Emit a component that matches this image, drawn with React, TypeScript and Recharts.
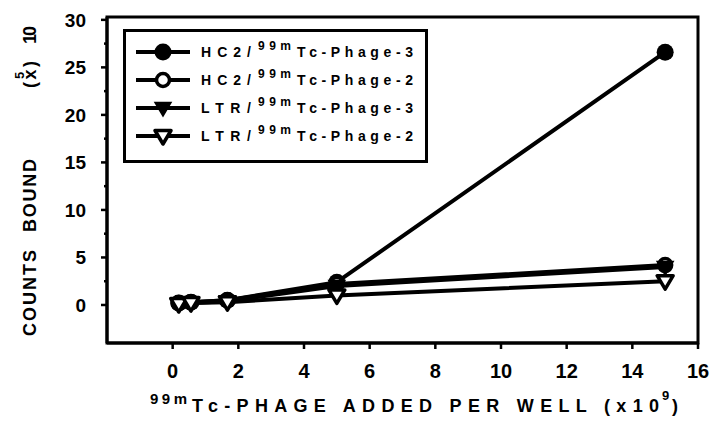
import { LineChart, Line, XAxis, YAxis, ReferenceArea } from "recharts";

// phage added per well (x10^9) — roughly 3-fold dilutions
const phageAdded = [0.185, 0.556, 1.667, 5, 15];
// counts bound (x10^5)
const hc2Phage3 = [0.2, 0.3, 0.5, 2.4, 26.6];
const hc2Phage2 = [0.2, 0.3, 0.5, 2.2, 4.2];
const ltrPhage3 = [0.1, 0.2, 0.4, 2.0, 4.0];
const ltrPhage2 = [0.1, 0.2, 0.3, 1.0, 2.5];

const xTicks = [0, 2, 4, 6, 8, 10, 12, 14, 16];
const yTicks = [0, 2.5, 5, 7.5, 10, 12.5, 15, 17.5, 20, 22.5, 25, 27.5, 30];

const cellLines = ["HC2/", "HC2/", "LTR/", "LTR/"];
const phageNames = ["Tc-Phage-3", "Tc-Phage-2", "Tc-Phage-3", "Tc-Phage-2"];
const seriesKeys = ["hc2p3", "hc2p2", "ltrp3", "ltrp2"];
const markerShapes = ["circleFilled", "circleOpen", "triFilled", "triOpen"];

const data = phageAdded.map((x, i) => ({
  x,
  hc2p3: hc2Phage3[i],
  hc2p2: hc2Phage2[i],
  ltrp3: ltrPhage3[i],
  ltrp2: ltrPhage2[i],
}));

const FONT = '"Liberation Sans", Arial, Helvetica, sans-serif';
const Y_TICK_SIZE = 6;
const Y_TICK_MARGIN = 15;

function Marker({ cx, cy, shape }: { cx: number; cy: number; shape: string }) {
  if (cx == null || cy == null) return null;
  if (shape === "circleFilled") return <circle cx={cx} cy={cy} r={8.5} fill="#000" />;
  if (shape === "circleOpen")
    return <circle cx={cx} cy={cy} r={6.5} fill="#fff" stroke="#000" strokeWidth={3.5} />;
  const pts = `${cx - 8},${cy - 5.5} ${cx + 8},${cy - 5.5} ${cx},${cy + 8}`;
  if (shape === "triFilled") return <polygon points={pts} fill="#000" stroke="#000" strokeWidth={1.5} />;
  return <polygon points={pts} fill="#fff" stroke="#000" strokeWidth={3.5} strokeLinejoin="round" />;
}

function YTick(props: any) {
  const { x, y, payload } = props;
  const v = payload.value;
  const major = v % 5 === 0;
  const x2 = x + Y_TICK_MARGIN + Y_TICK_SIZE;
  return (
    <g>
      <line x1={x2 - (major ? Y_TICK_SIZE : 3)} x2={x2} y1={y} y2={y} stroke="#000" strokeWidth={2.5} />
      {major && (
        <text x={x} y={y} dy="0.36em" textAnchor="end" fill="#000" fontSize={19} fontWeight="bold" fontFamily={FONT}>
          {v}
        </text>
      )}
    </g>
  );
}

function LegendBox() {
  const rowY = [52, 80, 108, 136];
  return (
    <g>
      <rect x={124.5} y={30.5} width={302} height={131} fill="#fff" stroke="#000" strokeWidth={3} />
      {seriesKeys.map((k, i) => (
        <g key={k}>
          <line x1={136} x2={190} y1={rowY[i]} y2={rowY[i]} stroke="#000" strokeWidth={4} />
          <Marker cx={163} cy={rowY[i]} shape={markerShapes[i]} />
          <text x={201} y={rowY[i] + 5} fontSize={14} textLength={50} lengthAdjust="spacing">
            {cellLines[i]}
          </text>
          <text x={258} y={rowY[i] - 2} fontSize={12} textLength={33} lengthAdjust="spacing">
            99m
          </text>
          <text x={297} y={rowY[i] + 5} fontSize={14} textLength={116} lengthAdjust="spacing">
            {phageNames[i]}
          </text>
        </g>
      ))}
    </g>
  );
}

export default function App() {
  return (
    <div style={{ position: "absolute", left: 0, top: 0, width: 711, height: 422, background: "#fff" }}>
      <LineChart width={711} height={422} data={data} margin={{ top: 17, right: 13, left: 0, bottom: 0 }}>
        <XAxis
          dataKey="x"
          type="number"
          domain={[-2, 16]}
          ticks={xTicks}
          height={79}
          axisLine={{ stroke: "#000", strokeWidth: 3 }}
          tickLine={{ stroke: "#000", strokeWidth: 2.5 }}
          tickSize={6}
          tickMargin={15}
          tick={{ fill: "#000", fontSize: 20, fontWeight: "bold", fontFamily: FONT }}
        />
        <YAxis
          type="number"
          domain={[-4, 30.3]}
          ticks={yTicks}
          width={107}
          axisLine={{ stroke: "#000", strokeWidth: 3 }}
          tickLine={false}
          tickSize={Y_TICK_SIZE}
          tickMargin={Y_TICK_MARGIN}
          tick={<YTick />}
          interval={0}
        />
        <ReferenceArea x1={-2} x2={16} y1={-4} y2={30.3} fill="none" stroke="#000" strokeWidth={3} />
        {seriesKeys.map((k, i) => (
          <Line
            key={k}
            dataKey={k}
            type="linear"
            stroke="#000"
            strokeWidth={4}
            isAnimationActive={false}
            dot={(p: any) => <Marker key={`${k}-${p.index}`} cx={p.cx} cy={p.cy} shape={markerShapes[i]} />}
            activeDot={false}
          />
        ))}
      </LineChart>
      <svg
        width={711}
        height={422}
        style={{ position: "absolute", left: 0, top: 0, pointerEvents: "none" }}
        fontFamily={FONT}
        fontWeight="bold"
        fill="#000"
      >
        <g transform="rotate(-90)" fontSize={18}>
          <text x={-336} y={36} textLength={86} lengthAdjust="spacing">COUNTS</text>
          <text x={-232} y={36} textLength={73} lengthAdjust="spacing">BOUND</text>
          <text x={-88} y={36} textLength={27} lengthAdjust="spacing">(x)</text>
          <text x={-79} y={24} fontSize={13}>5</text>
          <text x={-44} y={36} textLength={18} lengthAdjust="spacing">10</text>
        </g>
        <text x={150} y={404} fontSize={15} textLength={37} lengthAdjust="spacing">99m</text>
        <text x={192} y={412} fontSize={18} textLength={467} lengthAdjust="spacing">
          Tc-PHAGE ADDED PER WELL (x10
        </text>
        <text x={662} y={400} fontSize={13}>9</text>
        <text x={672} y={412} fontSize={18}>)</text>
        <LegendBox />
      </svg>
    </div>
  );
}
